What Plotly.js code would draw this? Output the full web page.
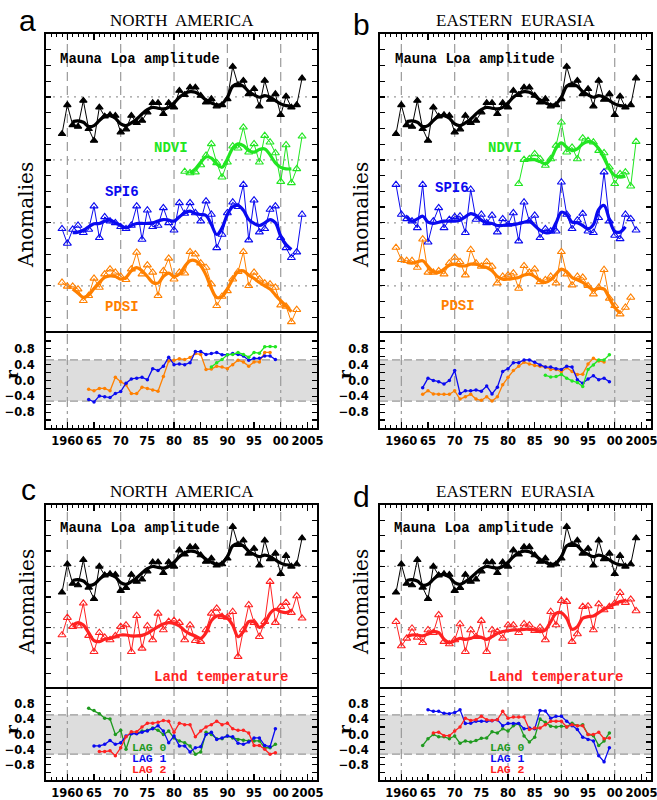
<!DOCTYPE html>
<html>
<head>
<meta charset="utf-8">
<script src="https://cdn.plot.ly/plotly-3.0.1.min.js"></script>
<style>html,body{margin:0;padding:0;background:#fff;}#chart{width:657px;height:800px;}</style>
</head>
<body>
<div id="chart"></div>
<script>
// ---------------- DATA (anomalies in axis-tick units; r values) ----------------
const mlStart = 1959;
const maunaLoa = [-2.35,-0.51,-1.78,-1.88,-0.23,-2.03,-2.77,-0.66,-1.23,-1.14,-1.19,-2.24,-2.05,-1.19,-1.65,-1.50,-0.97,-0.38,-0.38,-1.08,-0.38,-0.66,0.40,0.13,0.61,0.61,0.08,-0.34,-0.13,-0.59,-0.51,-0.13,1.93,0.76,1.04,0.19,0.51,-0.59,1.04,-0.17,0.19,-1.14,0.04,-0.66,-0.51,1.19];
const smStart = 1961;
const maunaLoaSmooth = [-1.57,-1.52,-1.61,-1.88,-1.82,-1.50,-1.23,-1.19,-1.35,-1.71,-1.82,-1.65,-1.40,-1.08,-0.80,-0.66,-0.72,-0.76,-0.66,-0.38,-0.02,0.23,0.34,0.30,0.08,-0.19,-0.38,-0.51,-0.44,-0.02,0.68,0.83,0.68,0.34,0.13,-0.02,0.08,-0.02,-0.23,-0.44,-0.55,-0.59];

// Panel a: North America
const ndviStart = 1982, ndviSmStart = 1983;
const ndviNA = [-0.74,-0.83,-0.78,-0.32,0.28,1.02,-0.19,-1.10,-0.15,0.87,0.74,2.07,0.49,1.02,-0.15,1.54,1.12,0.44,-1.38,0.95,-1.46,-0.57,1.50];
const ndviNASmooth = [-0.83,-0.57,-0.15,0.19,0.11,-0.25,-0.47,0.06,0.74,1.02,0.91,0.59,0.49,0.66,0.70,0.32,-0.19,-0.47,-0.57,-0.57];
const spiStart = 1959;
const spiNA = [-0.38,-1.31,-0.42,-0.17,-0.63,-0.42,1.06,-0.95,0.38,0.11,0,-0.25,-0.38,-0.17,1.06,-1.06,0.80,-0.25,-0.17,0.95,0,-0.47,1.27,0.59,1.27,0.63,0.11,1.38,0.53,-1.59,-0.74,0.63,1.31,1.02,2.43,-1.10,1.44,-0.59,-0.38,0.85,1.06,-0.95,-1.59,-2.22,-1.86,0.53];
const spiNASmooth = [-0.63,-0.59,-0.47,-0.25,-0.06,-0.04,0.11,0.17,0,-0.17,-0.32,-0.17,-0.04,-0.04,-0.04,0,0.11,0.21,0.17,0.11,0.38,0.63,0.74,0.59,0.53,0.47,-0.11,-0.74,-0.32,0.53,1.02,1.10,0.80,0.21,-0.04,-0.17,0,0.21,0,-0.85,-1.38,-1.69];
const pdsiStart = 1959;
const pdsiNA = [0.21,-0.04,-0.04,-0.21,-0.95,-0.63,0.47,-0.11,0.74,1.06,0.85,0.59,0.38,1.06,2.12,0.74,1.31,0.85,-0.63,0.95,1.74,0.42,0.85,0.80,2.16,2.01,1.44,1.16,0.11,-1.27,-0.68,-0.32,0.42,0.89,2.16,0,0.85,0.42,0.17,0.11,-0.11,-1.23,-1.31,-2.29,-1.52];
const pdsiNASmooth = [-0.21,-0.47,-0.74,-0.59,-0.17,0.21,0.53,0.63,0.59,0.42,0.53,0.95,1.16,0.95,0.59,0.21,0.17,0.59,0.80,0.59,0.74,1.23,1.59,1.59,1.27,0.68,-0.17,-0.74,-0.68,-0.21,0.42,0.89,0.95,0.68,0.47,0.21,0,-0.21,-0.59,-0.95,-1.27,-1.65];
const rSpiStart = 1964, rPdsiStart = 1964, rNdviStart = 1987;
const rSpiNA = [-0.48,-0.54,-0.39,-0.41,-0.43,-0.33,-0.28,-0.07,0.04,0.06,0.08,0.02,0.30,0.25,0.36,0.59,0.40,0.42,0.40,0.45,0.73,0.73,0.66,0.68,0.71,0.65,0.65,0.68,0.66,0.62,0.51,0.56,0.56,0.62,0.62,0.53];
const rPdsiNA = [-0.22,-0.26,-0.20,-0.20,-0.26,0.08,-0.03,-0.11,-0.33,-0.33,-0.17,-0.20,-0.24,-0.27,0.10,0.49,0.51,0.55,0.53,0.58,0.68,0.66,0.28,0.29,0.36,0.34,0.30,0.40,0.51,0.47,0.36,0.47,0.47,0.71,0.71];
const rNdviNA = [0.34,0.45,0.53,0.65,0.66,0.71,0.66,0.59,0.71,0.69,0.85,0.86,0.85];

// Panel b: Eastern Eurasia
const ndviEE = [-1.52,0.02,0.06,0.38,0.06,-0.36,0.06,0.91,2.39,0.49,0.80,0.06,1.38,1.23,1.12,0.59,0.44,-0.47,-1.52,-0.89,-0.78,-1.67,1.16];
const ndviEESmooth = [-0.04,0.02,0.02,-0.11,-0.25,0.06,0.74,1.08,0.80,0.59,0.70,1.02,1.16,1.08,0.70,0.11,-0.57,-0.99,-1.10,-1.04];
const spiEE = [2.43,0.53,0.25,0.11,-0.32,2.43,-1.23,0.11,0.95,-0.32,0.21,0.38,0.42,-0.63,2.12,0.21,0.53,0,0.47,-0.59,0.25,-0.11,0.63,-1.16,1.31,0.11,0.47,-0.95,-0.38,-0.53,-0.53,2.58,0.53,-0.38,0.17,0.59,-0.53,-0.63,0.32,3.22,0.11,-0.80,-1.02,0.53,0.25,-0.47];
const spiEESmooth = [0.42,0.11,0.25,0.42,0.04,-0.04,0.04,0.11,0.11,0.11,0.17,0.38,0.59,0.47,0.17,0,-0.04,-0.17,-0.17,-0.11,-0.11,-0.04,0.04,0.11,-0.17,-0.47,-0.63,-0.59,0,0.68,0.53,0.04,0,-0.17,-0.38,-0.11,0.85,1.10,0.21,-0.53,-0.59,-0.25];
const pdsiEE = [2.43,1.65,1.59,1.59,1.16,2.96,0.85,0.85,0.95,0.74,1.44,1.80,1.52,0.68,2.29,1.44,1.23,1.52,1.23,0.17,0.59,0.68,0.80,-0.17,1.27,0.85,1.06,0.25,0.38,0.59,0.17,2.16,0.74,0.04,0.59,0.53,0,-0.53,-0.11,1.02,-0.80,-1.27,-1.80,-1.38,-0.74];
const pdsiEESmooth = [1.48,1.44,1.52,1.59,1.23,0.89,0.85,1.06,1.31,1.38,1.27,1.27,1.38,1.38,1.23,1.16,0.95,0.59,0.42,0.42,0.47,0.53,0.68,0.74,0.59,0.32,0.21,0.38,0.74,1.06,0.89,0.53,0.38,0.21,-0.04,-0.25,-0.17,-0.21,-0.80,-1.38,-1.74];
const rSpiEE = [-0.18,0.06,0,-0.03,-0.09,0,0.25,-0.33,-0.26,-0.26,-0.24,-0.27,-0.14,-0.34,-0.17,0.23,0.30,0.45,0.45,0.52,0.52,0.46,0.39,0.34,0.34,0.30,0.28,0.36,0.34,0.02,-0.07,0.04,0.12,0.02,0.06,-0.03];
const rPdsiEE = [-0.35,-0.26,-0.34,-0.35,-0.35,-0.35,-0.26,-0.47,-0.41,-0.35,-0.47,-0.50,-0.41,-0.52,-0.41,-0.11,0.08,0.25,0.36,0.46,0.42,0.38,0.36,0.34,0.28,0.28,0.22,0.32,0.23,0.15,0.16,0.42,0.56,0.49,0.47];
const rNdviEE = [0.13,0.09,0.10,0.15,0.06,-0.01,-0.05,-0.15,0.28,0.39,0.52,0.52,0.65];

// Panels c, d: land temperature
const ltStart = 1959;
const landTempNA = [-0.48,0.65,0.07,0.11,1.59,-0.52,-1.57,-0.33,-0.63,-0.80,-0.54,0.07,0.17,-1.57,0.78,-1.35,0.11,-0.80,0.93,-0.15,0.39,0.46,0.33,-0.80,0.17,-0.85,-0.91,-0.15,0.93,1.26,0.72,0.67,1.04,-1.89,-0.15,1.48,0.33,-0.59,0.39,3.0,0.33,1.37,1.63,0.98,2.07,0.61];
const landTempNASmooth = [0.17,0.33,0.17,-0.33,-0.85,-0.91,-0.76,-0.70,-0.59,-0.48,-0.48,-0.54,-0.54,-0.50,-0.37,-0.15,0.07,0.24,0.33,0.28,0.11,-0.20,-0.41,-0.54,-0.70,-0.33,0.46,0.76,0.76,0.61,0.17,-0.59,-0.26,0.39,0.39,0.02,0.28,0.93,1.20,1.04,0.98,1.15];
const landTempEE = [0.39,-1.20,-0.70,-0.04,-0.63,-0.98,-0.15,-0.33,0.83,-0.91,-1.07,-0.80,0.24,-1.57,-0.15,-0.59,0.46,-1.57,-0.15,-0.26,-0.70,0.17,0.17,-0.33,0.24,0.17,-0.20,0.02,-0.80,1.04,0.17,1.76,1.70,-0.91,-0.41,1.37,1.41,-0.15,1.54,1.15,1.37,1.59,2.28,1.63,1.85,1.09];
const landTempEESmooth = [-0.59,-0.48,-0.48,-0.54,-0.41,-0.26,-0.33,-0.76,-0.98,-0.85,-0.70,-0.76,-0.70,-0.59,-0.63,-0.76,-0.59,-0.37,-0.26,-0.20,-0.15,-0.15,-0.11,-0.11,-0.15,-0.26,-0.15,0.39,0.93,0.98,0.61,-0.11,0.07,0.61,0.72,0.76,0.98,1.20,1.37,1.54,1.70,1.76];
const lag0Start = 1964, lag1Start = 1965, lag2Start = 1966;
const lag0NA = [0.69,0.63,0.55,0.43,0.41,0,0.11,-0.39,0.04,0.03,0.09,0.11,0.17,0.11,0,0.09,-0.09,-0.17,-0.22,-0.30,-0.52,-0.46,0.06,0,-0.11,-0.11,-0.04,-0.09,-0.13,-0.15,-0.17,-0.17,-0.17,-0.35,-0.35,-0.26];
const lag1NA = [-0.30,-0.30,-0.26,-0.16,-0.26,-0.22,-0.04,0.02,0.02,0.06,0.09,0.15,0.23,0.09,-0.22,-0.04,-0.30,-0.30,-0.46,-0.35,-0.32,0,0.06,-0.13,-0.09,-0.04,-0.06,-0.23,-0.26,-0.20,-0.09,-0.09,-0.29,-0.32,0.15];
const lag2NA = [-0.45,-0.45,-0.43,-0.56,-0.35,-0.06,0.07,0.07,0.20,0.30,0.30,0.32,0.37,0.35,0.06,0.30,0.26,0.26,-0.06,0.09,0.20,0.26,0.35,0.26,0.30,0.15,0.11,0.11,0.04,-0.29,-0.29,-0.39,-0.52,-0.48];
const lag0EE = [-0.29,-0.11,0,-0.06,-0.06,-0.11,-0.04,-0.23,-0.17,-0.20,-0.16,-0.10,-0.09,0.07,0.04,0.15,0.09,0.23,0.29,-0.04,-0.20,-0.07,0.41,0.32,0.22,0.20,0.22,0.20,0.30,0.23,0.26,0,-0.03,-0.29,-0.17,0.04];
const lag1EE = [0.65,0.61,0.61,0.56,0.55,0.58,0.65,0.29,0.30,0.35,0.35,0.35,0.36,0.39,0.23,0.29,0.29,0.29,0.15,0.17,0.15,0.63,0.62,0.43,0.48,0.48,0.35,0.23,0.13,-0.07,-0.13,-0.17,-0.56,-0.72,-0.35];
const lag2EE = [0.04,0.06,-0.03,-0.03,0.09,0.20,0.43,0.37,0.39,0.48,0.39,0.37,0.39,0.61,0.43,0.46,0.46,0.46,0.13,0.17,0.17,0.26,0.35,0.35,0.35,0.20,0.26,0.23,0.23,0,0,0.06,-0.11,-0.09];

const xTickVals = [1960,1965,1970,1975,1980,1985,1990,1995,2000,2005];
const xTickText = ['1960','65','70','75','80','85','90','95','00','2005'];
const rLabelVals = [-0.8,-0.4,0,0.4,0.8];
const rLabelText = ['\u22120.8','\u22120.4','0.0','0.4','0.8'];

// ---------------- STYLE ----------------
const C = {black:'#000000', green:'#22e622', blue:'#0a0af0', orange:'#ff8000', red:'#ff2222', dgreen:'#1f9a1f', grid:'#9a9a9a', band:'#dddddd'};
const W = 657, H = 800;
const XR = [1956, 2006.8];
const BAND = 0.52;
const px = v => v / W, py = v => 1 - v / H;

const yrs = (s, n) => Array.from({length:n}, (_, i) => s + i);

const traces = [];
function pts(ax, start, vals, off, color, filled) {
  traces.push({x: yrs(start, vals.length), y: vals.map(v => v + off), xaxis: ax[0], yaxis: ax[1],
    mode: 'lines+markers', line: {color: color, width: 1},
    marker: {symbol: filled ? 'triangle-up' : 'triangle-up-open', size: filled ? 6.5 : 7, color: color, line: {color: color, width: 1.1}},
    hoverinfo: 'skip', showlegend: false, cliponaxis: true});
}
function smooth(ax, start, vals, off, color) {
  traces.push({x: yrs(start, vals.length), y: vals.map(v => v + off), xaxis: ax[0], yaxis: ax[1],
    mode: 'lines', line: {color: color, width: 3.2, shape: 'spline', smoothing: 1},
    hoverinfo: 'skip', showlegend: false});
}
function rline(ax, start, vals, color) {
  traces.push({x: yrs(start, vals.length), y: vals, xaxis: ax[0], yaxis: ax[1],
    mode: 'lines+markers', line: {color: color, width: 1.3},
    marker: {symbol: 'circle', size: 3.5, color: color},
    hoverinfo: 'skip', showlegend: false});
}

// panel a
const A = ['x', 'y'], Ar = ['x2', 'y2'];
pts(A, mlStart, maunaLoa, 15, C.black, true); smooth(A, smStart, maunaLoaSmooth, 15, C.black);
pts(A, ndviStart, ndviNA, 11, C.green, false); smooth(A, ndviSmStart, ndviNASmooth, 11, C.green);
pts(A, spiStart, spiNA, 7, C.blue, false); smooth(A, smStart, spiNASmooth, 7, C.blue);
pts(A, pdsiStart, pdsiNA, 3, C.orange, false); smooth(A, smStart, pdsiNASmooth, 3, C.orange);
rline(Ar, rPdsiStart, rPdsiNA, C.orange); rline(Ar, rSpiStart, rSpiNA, C.blue); rline(Ar, rNdviStart, rNdviNA, C.green);
// panel b
const B = ['x3', 'y3'], Br = ['x4', 'y4'];
pts(B, mlStart, maunaLoa, 15, C.black, true); smooth(B, smStart, maunaLoaSmooth, 15, C.black);
pts(B, ndviStart, ndviEE, 11, C.green, false); smooth(B, ndviSmStart, ndviEESmooth, 11, C.green);
pts(B, spiStart, spiEE, 7, C.blue, false); smooth(B, smStart, spiEESmooth, 7, C.blue);
pts(B, pdsiStart, pdsiEE, 3, C.orange, false); smooth(B, smStart, pdsiEESmooth, 3, C.orange);
rline(Br, rPdsiStart, rPdsiEE, C.orange); rline(Br, rSpiStart, rSpiEE, C.blue); rline(Br, rNdviStart, rNdviEE, C.green);
// panel c
const Cc = ['x5', 'y5'], Cr = ['x6', 'y6'];
pts(Cc, mlStart, maunaLoa, 8.65, C.black, true); smooth(Cc, smStart, maunaLoaSmooth, 8.65, C.black);
pts(Cc, ltStart, landTempNA, 4, C.red, false); smooth(Cc, smStart, landTempNASmooth, 4, C.red);
rline(Cr, lag0Start, lag0NA, C.dgreen); rline(Cr, lag1Start, lag1NA, C.blue); rline(Cr, lag2Start, lag2NA, C.red);
// panel d
const D = ['x7', 'y7'], Dr = ['x8', 'y8'];
pts(D, mlStart, maunaLoa, 8.65, C.black, true); smooth(D, smStart, maunaLoaSmooth, 8.65, C.black);
pts(D, ltStart, landTempEE, 4, C.red, false); smooth(D, smStart, landTempEESmooth, 4, C.red);
rline(Dr, lag0Start, lag0EE, C.dgreen); rline(Dr, lag1Start, lag1EE, C.blue); rline(Dr, lag2Start, lag2EE, C.red);

// ---------------- LAYOUT ----------------
const tickFont = {family: 'DejaVu Sans', size: 11.5, color: '#000', weight: 'bold'};
const minorX = {ticks: 'inside', tickmode: 'linear', tick0: 1956, dtick: 1, ticklen: 3, tickcolor: '#000', tickwidth: 1};
function mainX(dom, anchor) {
  return {domain: dom, anchor: anchor, range: XR, side: 'top', showticklabels: false, ticks: 'inside',
    tickmode: 'linear', tick0: 1960, dtick: 5, ticklen: 6, tickwidth: 1.3, tickcolor: '#000', minor: minorX,
    showline: true, linewidth: 2, linecolor: '#000', mirror: false, showgrid: false, zeroline: false};
}
function rX(dom, anchor) {
  return {domain: dom, anchor: anchor, range: XR, side: 'bottom', ticks: 'inside',
    tickmode: 'array', tickvals: xTickVals, ticktext: xTickText, tickfont: tickFont, tickangle: 0, ticklabelstandoff: 1,
    ticklabeloverflow: 'allow',
    ticklen: 6, tickwidth: 1.3, tickcolor: '#000', minor: minorX,
    showline: true, linewidth: 2, linecolor: '#000', mirror: true, showgrid: false, zeroline: false};
}
function mainY(dom, anchor, top) {
  return {domain: dom, anchor: anchor, range: [0, top], tickmode: 'linear', tick0: 0, dtick: 1, ticks: 'inside',
    ticklen: 5, tickwidth: 1.3, tickcolor: '#000', showticklabels: false,
    showline: true, linewidth: 2, linecolor: '#000', mirror: 'ticks', showgrid: false, zeroline: false};
}
function rY(dom, anchor) {
  return {domain: dom, anchor: anchor, range: [-1.2, 1.2], tickmode: 'array', tickvals: rLabelVals, ticktext: rLabelText,
    tickfont: tickFont, ticks: 'inside', ticklen: 5, tickwidth: 1.3, tickcolor: '#000', ticklabelstandoff: 7,
    ticklabeloverflow: 'allow',
    minor: {ticks: 'inside', tickmode: 'linear', tick0: -1.2, dtick: 0.2, ticklen: 5, tickcolor: '#000', tickwidth: 1.3},
    showline: true, linewidth: 2, linecolor: '#000', mirror: 'ticks', showgrid: false, zeroline: false};
}
const dL = [px(46), px(317)], dR = [px(380), px(651)];
const yTopMain = [py(333), py(34)], yTopR = [py(428), py(333)];
const yBotMain = [py(689), py(505)], yBotR = [py(780), py(689)];

const layout = {
  width: W, height: H, margin: {l: 0, r: 0, t: 0, b: 0}, paper_bgcolor: '#fff', plot_bgcolor: 'rgba(0,0,0,0)',
  showlegend: false,
  xaxis: mainX(dL, 'y'), yaxis: mainY(yTopMain, 'x', 19),
  xaxis2: rX(dL, 'y2'), yaxis2: rY(yTopR, 'x2'),
  xaxis3: mainX(dR, 'y3'), yaxis3: mainY(yTopMain, 'x3', 19),
  xaxis4: rX(dR, 'y4'), yaxis4: rY(yTopR, 'x4'),
  xaxis5: mainX(dL, 'y5'), yaxis5: mainY(yBotMain, 'x5', 12),
  xaxis6: rX(dL, 'y6'), yaxis6: rY(yBotR, 'x6'),
  xaxis7: mainX(dR, 'y7'), yaxis7: mainY(yBotMain, 'x7', 12),
  xaxis8: rX(dR, 'y8'), yaxis8: rY(yBotR, 'x8'),
  shapes: [], annotations: []
};

// reference lines and band
const decades = [1960, 1970, 1980, 1990, 2000];
function refs(xs, ys, zeros, isR) {
  if (isR) {
    layout.shapes.push({type: 'rect', layer: 'below', xref: xs + ' domain', yref: ys, x0: 0, x1: 1, y0: -BAND, y1: BAND,
      fillcolor: C.band, line: {width: 0}});
    [-BAND, BAND].forEach(v => layout.shapes.push({type: 'line', layer: 'below', xref: xs + ' domain', yref: ys,
      x0: 0, x1: 1, y0: v, y1: v, line: {color: C.grid, width: 1.2, dash: '8px,4px'}}));
  }
  decades.forEach(d => layout.shapes.push({type: 'line', layer: 'below', xref: xs, yref: ys + ' domain',
    x0: d, x1: d, y0: 0, y1: 1, line: {color: C.grid, width: 1.2, dash: isR ? '10px,4px,3px,4px' : '9px,5px'}}));
  zeros.forEach(z => layout.shapes.push({type: 'line', layer: 'below', xref: xs + ' domain', yref: ys,
    x0: 0, x1: 1, y0: z, y1: z, line: {color: C.grid, width: 1.2, dash: '2px,5px'}}));
}
refs('x', 'y', [3, 7, 11, 15], false);
refs('x2', 'y2', [], true);
refs('x3', 'y3', [3, 7, 11, 15], false);
refs('x4', 'y4', [], true);
refs('x5', 'y5', [4, 8], false);
refs('x6', 'y6', [], true);
refs('x7', 'y7', [4, 8], false);
refs('x8', 'y8', [], true);

// texts
function ann(text, x, y, font, opts) {
  layout.annotations.push(Object.assign({text: text, x: px(x), y: py(y), xref: 'paper', yref: 'paper',
    showarrow: false, font: font, xanchor: 'center', yanchor: 'middle'}, opts || {}));
}
const letterF = {family: 'Liberation Sans, Arial', size: 30, color: '#000'};
const titleF = {family: 'Liberation Serif, Times New Roman', size: 17, color: '#000'};
const anomF = {family: 'DejaVu Serif', size: 20, color: '#000'};
const rF = {family: 'DejaVu Serif', size: 17, color: '#000', weight: 'bold'};
const lab = (c, s) => ({family: 'Liberation Mono, Courier New', size: s || 14, color: c, weight: 'bold'});

ann('a', 27, 20.5, letterF); ann('b', 361, 24.5, letterF);
ann('c', 28, 489.5, letterF); ann('d', 361, 496, letterF);
ann('NORTH  AMERICA', 181.5, 21, titleF); ann('EASTERN  EURASIA', 515.5, 21, titleF);
ann('NORTH  AMERICA', 181.5, 491.5, titleF); ann('EASTERN  EURASIA', 515.5, 491.5, titleF);
ann('Anomalies', 26, 215, anomF, {textangle: -90}); ann('Anomalies', 361, 215, anomF, {textangle: -90});
ann('Anomalies', 27, 602, anomF, {textangle: -90}); ann('Anomalies', 361, 602, anomF, {textangle: -90});
ann('r', 12, 374, rF, {textangle: -90}); ann('r', 345, 374, rF, {textangle: -90});
ann('r', 12, 729, rF, {textangle: -90}); ann('r', 345, 729, rF, {textangle: -90});
const L = {xanchor: 'left'};
ann('Mauna Loa amplitude', 58, 59, lab(C.black), L); ann('Mauna Loa amplitude', 393, 59, lab(C.black), L);
ann('NDVI', 152, 148, lab(C.green), L); ann('NDVI', 486, 148, lab(C.green), L);
ann('SPI6', 103, 192, lab(C.blue), L); ann('SPI6', 433, 188, lab(C.blue), L);
ann('PDSI', 103, 307, lab(C.orange), L); ann('PDSI', 439, 306, lab(C.orange), L);
ann('Mauna Loa amplitude', 58, 528, lab(C.black), L); ann('Mauna Loa amplitude', 392, 528, lab(C.black), L);
ann('Land temperature', 152, 677, lab(C.red), L); ann('Land temperature', 487, 677, lab(C.red), L);
ann('LAG 0', 130, 747, lab(C.dgreen, 11.5), L); ann('LAG 1', 130, 758, lab(C.blue, 11.5), L); ann('LAG 2', 130, 769, lab(C.red, 11.5), L);
ann('LAG 0', 488, 747, lab(C.dgreen, 11.5), L); ann('LAG 1', 488, 758, lab(C.blue, 11.5), L); ann('LAG 2', 488, 769, lab(C.red, 11.5), L);

Plotly.newPlot('chart', traces, layout, {staticPlot: true, displayModeBar: false});
</script>
</body>
</html>
